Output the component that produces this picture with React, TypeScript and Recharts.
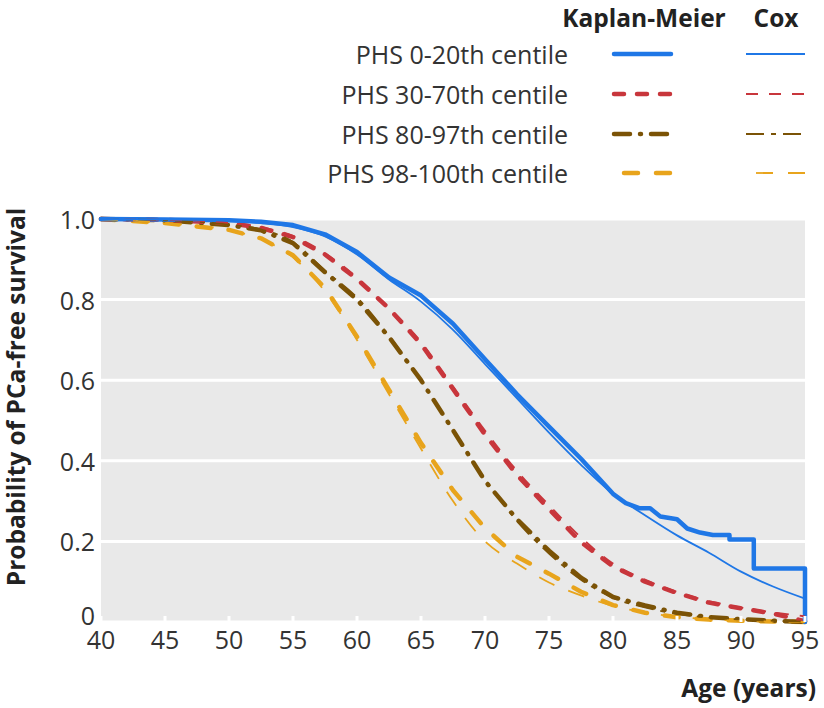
import { CartesianGrid, Label, Legend, Line, LineChart, XAxis, YAxis } from 'recharts'

if (typeof document !== 'undefined') document.body.style.margin = '0'

// shared age grid (years) for the smooth parts of the curves
const AGES = [40, 45, 50, 52.5, 55, 57.5, 60, 62.5, 65, 67.5, 70, 72.5, 75, 77.5, 80, 82.5, 85, 87.5, 90, 92.5, 95]

// PHS 0-20th centile, Kaplan-Meier (has the late steps)
const kmLowAges = [40, 45, 50, 52.5, 55, 57.5, 60, 62.5, 65, 67.5, 70, 72.5, 75, 77.5, 80, 81, 82.1, 82.9, 83.7, 85, 85.8, 86.8, 87.8, 89.1, 89.1, 91, 91, 95, 95]
const kmLow = [1.0, 0.999, 0.997, 0.993, 0.985, 0.962, 0.918, 0.855, 0.81, 0.74, 0.652, 0.565, 0.485, 0.405, 0.318, 0.295, 0.282, 0.282, 0.262, 0.255, 0.232, 0.222, 0.216, 0.216, 0.205, 0.205, 0.133, 0.133, 0]
const coxLow = [1.0, 0.999, 0.995, 0.99, 0.98, 0.957, 0.912, 0.85, 0.795, 0.725, 0.64, 0.555, 0.47, 0.39, 0.318, 0.265, 0.215, 0.172, 0.125, 0.088, 0.058]

// PHS 30-70th centile
const kmMid = [1.0, 0.998, 0.99, 0.978, 0.955, 0.912, 0.851, 0.778, 0.69, 0.578, 0.465, 0.365, 0.28, 0.198, 0.138, 0.1, 0.072, 0.048, 0.034, 0.021, 0.002]
const coxMid = [1.0, 0.998, 0.991, 0.98, 0.958, 0.915, 0.855, 0.78, 0.695, 0.585, 0.475, 0.375, 0.29, 0.21, 0.145, 0.105, 0.075, 0.052, 0.036, 0.024, 0.014]

// PHS 80-97th centile
const kmHigh = [1.0, 0.997, 0.985, 0.972, 0.94, 0.868, 0.8, 0.707, 0.6, 0.476, 0.35, 0.255, 0.177, 0.11, 0.062, 0.041, 0.023, 0.012, 0.007, 0.003, 0.0]
const coxHigh = [1.0, 0.997, 0.986, 0.974, 0.943, 0.872, 0.805, 0.71, 0.6, 0.475, 0.355, 0.25, 0.17, 0.105, 0.06, 0.036, 0.02, 0.011, 0.006, 0.003, 0.001]

// PHS 98-100th centile
const kmTop = [1.0, 0.99, 0.973, 0.952, 0.91, 0.829, 0.708, 0.576, 0.444, 0.327, 0.233, 0.162, 0.12, 0.075, 0.042, 0.023, 0.012, 0.006, 0.003, 0.001, 0]
const coxTop = [1.0, 0.99, 0.972, 0.95, 0.905, 0.82, 0.7, 0.565, 0.43, 0.3, 0.2, 0.145, 0.098, 0.066, 0.04, 0.024, 0.013, 0.007, 0.003, 0.001, 0.0]

const X_TICKS = [40, 45, 50, 55, 60, 65, 70, 75, 80, 85, 90, 95]
const Y_TICKS = [0, 0.2, 0.4, 0.6, 0.8, 1.0]
const GROUP_LABELS = ['PHS 0-20th centile', 'PHS 30-70th centile', 'PHS 80-97th centile', 'PHS 98-100th centile']

const zip = (ages: number[], vals: number[]) => ages.map((age, i) => ({ age, s: vals[i] }))

const FONT = '"Open Sans", "Noto Sans", sans-serif'
const TEXT = '#333333'
const FS = 25
const FS_BOLD = 24.5

interface Style {
  color: string
  km: string | undefined
  cox: string | undefined
}

const STYLES: Style[] = [
  { color: '#1f77e6', km: undefined, cox: undefined },
  { color: '#c8363c', km: '10 13', cox: '12 11' },
  { color: '#7b5306', km: '16 10 1 10', cox: '18 7 5 7' },
  { color: '#e8a41c', km: '14 18', cox: '17 15' }
]

const KM_W = 4.5
const COX_W = 1.8

const series = [
  { km: zip(kmLowAges, kmLow), cox: zip(AGES, coxLow) },
  { km: zip(AGES, kmMid), cox: zip(AGES, coxMid) },
  { km: zip(AGES, kmHigh), cox: zip(AGES, coxHigh) },
  { km: zip(AGES, kmTop), cox: zip(AGES, coxTop) }
]

// y tick: the "0" sits a little above its gridline so it clears the "40"
function YTick(props: any): React.JSX.Element {
  const { x, y, payload } = props
  const v: number = payload.value
  return (
    <text
      x={x}
      y={v === 0 ? y - 7 : y}
      textAnchor="end"
      dominantBaseline="central"
      fontFamily={FONT}
      fontSize={FS}
      fill={TEXT}
    >
      {v === 0 ? '0' : v.toFixed(1)}
    </text>
  )
}

function LegendBox(): React.JSX.Element {
  const rows = [54, 94, 134, 173]
  return (
    <svg width={824} height={190} style={{ display: 'block' }}>
      <g fontFamily={FONT} fontSize={FS} fill="#222">
        <text x={644} y={17} textAnchor="middle" dominantBaseline="central" fontWeight={700} fontSize={FS_BOLD}>
          Kaplan-Meier
        </text>
        <text x={776} y={17} textAnchor="middle" dominantBaseline="central" fontWeight={700} fontSize={FS_BOLD}>
          Cox
        </text>
        {GROUP_LABELS.map((label, i) => {
          const st = STYLES[i]
          const y = rows[i]
          return (
            <g key={label}>
              <text x={568} y={y} textAnchor="end" dominantBaseline="central" fill={TEXT}>
                {label}
              </text>
              <line
                x1={i === 3 ? 624 : 614}
                x2={671}
                y1={y}
                y2={y}
                stroke={st.color}
                strokeWidth={KM_W}
                strokeLinecap="round"
                strokeDasharray={st.km}
              />
              <line
                x1={i === 3 ? 756 : 746}
                x2={805}
                y1={y}
                y2={y}
                stroke={st.color}
                strokeWidth={COX_W}
                strokeDasharray={st.cox}
              />
            </g>
          )
        })}
      </g>
    </svg>
  )
}

export default function App(): React.JSX.Element {
  const order = [3, 2, 1, 0]
  return (
    <LineChart width={824} height={708} margin={{ top: 219, right: 19, bottom: 46, left: 41 }}>
      <CartesianGrid vertical={false} fill="#e9e9e9" stroke="#ffffff" strokeWidth={3} />
      <XAxis
        type="number"
        dataKey="age"
        domain={[40, 95]}
        ticks={X_TICKS}
        height={40}
        axisLine={false}
        tickLine={{ stroke: '#ffffff', strokeWidth: 3 }}
        tickSize={-6}
        tickMargin={15}
        tick={{ fontSize: FS, fill: TEXT, fontFamily: FONT }}
        interval={0}
      >
        <Label
          content={() => (
            <text x={816} y={697} textAnchor="end" fontFamily={FONT} fontSize={FS_BOLD} fontWeight={700} fill="#222">
              Age (years)
            </text>
          )}
        />
      </XAxis>
      <YAxis
        type="number"
        domain={[0, 1]}
        ticks={Y_TICKS}
        width={60}
        axisLine={false}
        tickLine={false}
        tickSize={0}
        tickMargin={6}
        tick={<YTick />}
        interval={0}
      >
        <Label
          content={() => (
            <text
              x={15}
              y={397}
              transform="rotate(-90, 15, 397)"
              textAnchor="middle"
              dominantBaseline="central"
              fontFamily={FONT}
              fontSize={FS_BOLD}
              fontWeight={700}
              fill="#222"
            >
              Probability of PCa-free survival
            </text>
          )}
        />
      </YAxis>
      <Legend
        layout="vertical"
        align="center"
        verticalAlign="middle"
        wrapperStyle={{ position: 'absolute', top: 0, left: 0, width: 824, height: 190 }}
        content={() => <LegendBox />}
      />
      {order.map((i) => (
        <Line
          key={`km${i}`}
          data={series[i].km}
          dataKey="s"
          type="linear"
          stroke={STYLES[i].color}
          strokeWidth={KM_W}
          strokeLinecap="round"
          strokeLinejoin="round"
          strokeDasharray={STYLES[i].km}
          dot={false}
          activeDot={false}
          isAnimationActive={false}
          name={`${GROUP_LABELS[i]} Kaplan-Meier`}
        />
      ))}
      {order.map((i) => (
        <Line
          key={`cox${i}`}
          data={series[i].cox}
          dataKey="s"
          type="monotone"
          stroke={STYLES[i].color}
          strokeWidth={COX_W}
          strokeDasharray={STYLES[i].cox}
          dot={false}
          activeDot={false}
          isAnimationActive={false}
          name={`${GROUP_LABELS[i]} Cox`}
        />
      ))}
    </LineChart>
  )
}
